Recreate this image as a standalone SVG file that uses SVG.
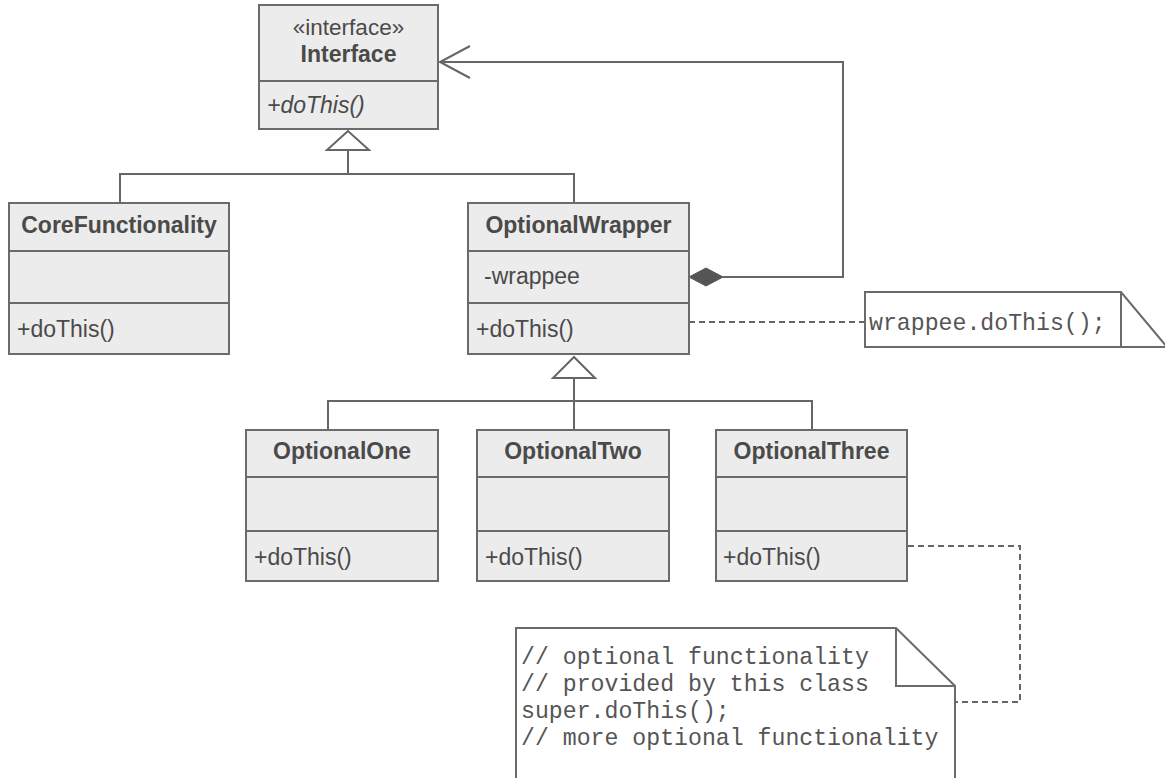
<svg xmlns="http://www.w3.org/2000/svg" width="1165" height="778" viewBox="0 0 1165 778">
  <style>
    .box { fill: #ececec; stroke: #6b6b6b; stroke-width: 2; }
    .div { stroke: #6b6b6b; stroke-width: 2; }
    .name { font-family: "Liberation Sans", Arial, sans-serif; font-size: 23px; font-weight: bold; fill: #4a4a4a; text-anchor: middle; }
    .member { font-family: "Liberation Sans", Arial, sans-serif; font-size: 23px; fill: #4a4a4a; }
    .stereo { font-family: "Liberation Sans", Arial, sans-serif; font-size: 22.5px; fill: #4a4a4a; text-anchor: middle; }
    .line { fill: none; stroke: #666666; stroke-width: 2; }
    .dash { fill: none; stroke: #666666; stroke-width: 2; stroke-dasharray: 6 4; }
    .note { fill: #ffffff; stroke: #6b6b6b; stroke-width: 2; }
    .code { font-family: "Liberation Mono", "Courier New", monospace; font-size: 23.2px; fill: #555555; }
  </style>

  <!-- connectors -->
  <g id="connectors">
    <!-- generalization to Interface -->
    <polyline class="line" points="120,203 120,174 574,174 574,203"/>
    <line class="line" x1="348" y1="150" x2="348" y2="174"/>
    <polygon points="348,131 327,150 369,150" fill="#ffffff" stroke="#666666" stroke-width="2"/>
    <!-- composition wrappee -> Interface -->
    <polyline class="line" points="723,277 843,277 843,62 440,62"/>
    <polyline class="line" points="470,46 440,62 470,78"/>
    <polygon points="689,277 706,268 723,277 706,286" fill="#555555" stroke="#555555" stroke-width="1"/>
    <!-- generalization to OptionalWrapper -->
    <polyline class="line" points="328,430 328,401 812,401 812,430"/>
    <line class="line" x1="574" y1="378" x2="574" y2="430"/>
    <polygon points="574,357 553,378 595,378" fill="#ffffff" stroke="#666666" stroke-width="2"/>
    <!-- note anchors -->
    <line class="dash" x1="689" y1="322" x2="865" y2="322"/>
    <polyline class="dash" points="908,546 1020,546 1020,702 955,702"/>
  </g>

  <!-- Interface -->
  <g id="interface">
    <rect class="box" x="259" y="5" width="179" height="124"/>
    <line class="div" x1="259" y1="81" x2="438" y2="81"/>
    <text class="stereo" x="348.5" y="35">«interface»</text>
    <text class="name" x="348.5" y="62">Interface</text>
    <text class="member" x="267" y="113" font-style="italic">+doThis()</text>
  </g>

  <!-- CoreFunctionality -->
  <g id="core-functionality">
    <rect class="box" x="9" y="203" width="220" height="151"/>
    <line class="div" x1="9" y1="251" x2="229" y2="251"/>
    <line class="div" x1="9" y1="303" x2="229" y2="303"/>
    <text class="name" x="119" y="233">CoreFunctionality</text>
    <text class="member" x="17" y="337">+doThis()</text>
  </g>

  <!-- OptionalWrapper -->
  <g id="optional-wrapper">
    <rect class="box" x="468" y="203" width="221" height="151"/>
    <line class="div" x1="468" y1="251" x2="689" y2="251"/>
    <line class="div" x1="468" y1="303" x2="689" y2="303"/>
    <text class="name" x="578.5" y="233">OptionalWrapper</text>
    <text class="member" x="484" y="284">-wrappee</text>
    <text class="member" x="476" y="337">+doThis()</text>
  </g>

  <!-- OptionalOne -->
  <g id="optional-one">
    <rect class="box" x="246" y="430" width="192" height="151"/>
    <line class="div" x1="246" y1="477" x2="438" y2="477"/>
    <line class="div" x1="246" y1="531" x2="438" y2="531"/>
    <text class="name" x="342" y="459">OptionalOne</text>
    <text class="member" x="254" y="565">+doThis()</text>
  </g>

  <!-- OptionalTwo -->
  <g id="optional-two">
    <rect class="box" x="477" y="430" width="192" height="151"/>
    <line class="div" x1="477" y1="477" x2="669" y2="477"/>
    <line class="div" x1="477" y1="531" x2="669" y2="531"/>
    <text class="name" x="573" y="459">OptionalTwo</text>
    <text class="member" x="485" y="565">+doThis()</text>
  </g>

  <!-- OptionalThree -->
  <g id="optional-three">
    <rect class="box" x="716" y="430" width="191" height="151"/>
    <line class="div" x1="716" y1="477" x2="907" y2="477"/>
    <line class="div" x1="716" y1="531" x2="907" y2="531"/>
    <text class="name" x="811.5" y="459">OptionalThree</text>
    <text class="member" x="723" y="565">+doThis()</text>
  </g>

  <!-- note: wrapper delegation -->
  <g id="note-wrappee">
    <path class="note" d="M865,292 H1121 L1167,347 H865 Z"/>
    <line class="div" x1="1121" y1="292" x2="1121" y2="347"/>
    <text class="code" x="869" y="330">wrappee.doThis();</text>
  </g>

  <!-- note: optional functionality -->
  <g id="note-optional">
    <path class="note" d="M516,790 V628 H896 L955,686 V790"/>
    <polyline fill="none" stroke="#6b6b6b" stroke-width="2" points="896,628 896,686 955,686"/>
    <text class="code" x="521" y="664">// optional functionality</text>
    <text class="code" x="521" y="691">// provided by this class</text>
    <text class="code" x="521" y="718">super.doThis();</text>
    <text class="code" x="521" y="745">// more optional functionality</text>
  </g>
</svg>
